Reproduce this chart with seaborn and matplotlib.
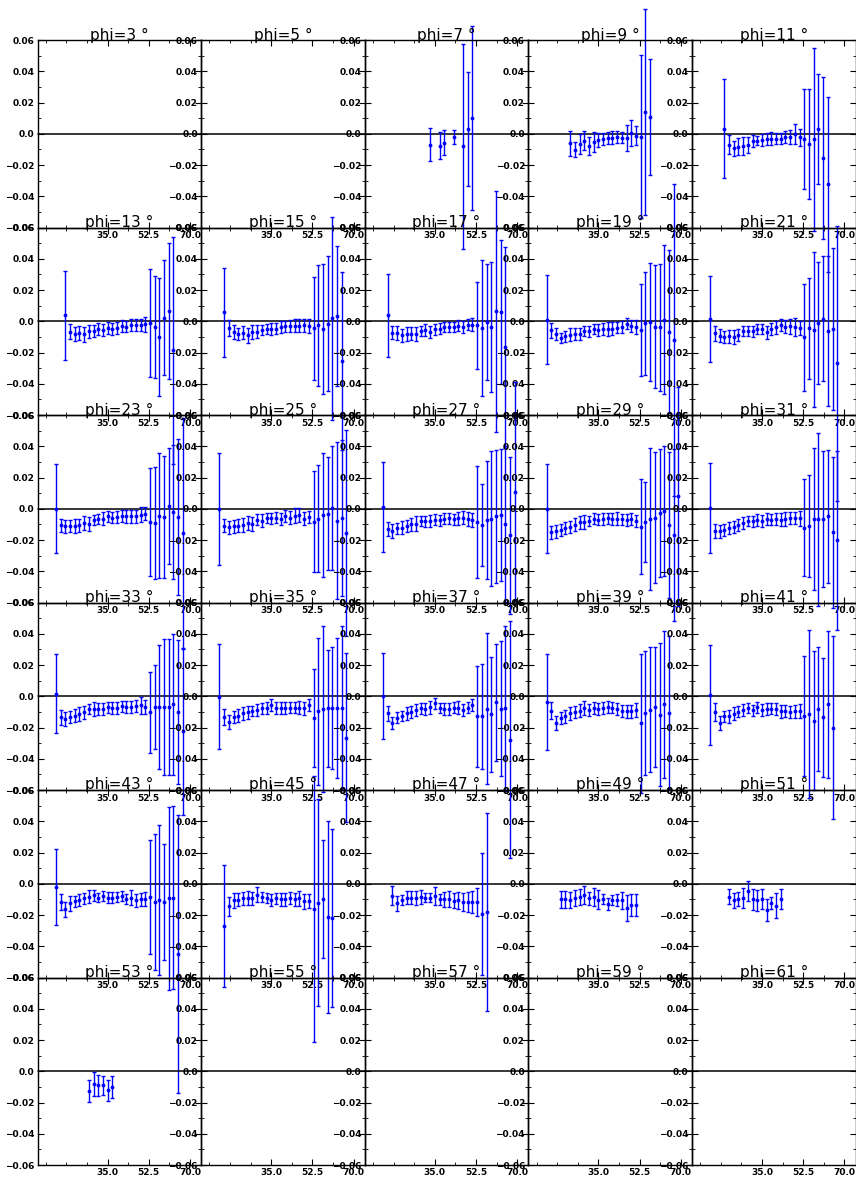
"""
Beam-spin asymmetry vs theta, one panel per phi bin (6 x 5 grid).
Saves out.png.
"""
import numpy as np
import pandas as pd
import matplotlib
matplotlib.use('Agg')
import matplotlib.pyplot as plt
from matplotlib.ticker import FixedLocator, MultipleLocator
import seaborn as sns

nan = float('nan')

# ─── Data ─────────────────────────────────────────────────────────────────────

PHI = [3, 5, 7, 9, 11, 13, 15, 17, 19, 21, 23, 25, 27, 29, 31,
       33, 35, 37, 39, 41, 43, 45, 47, 49, 51, 53, 55, 57, 59, 61]

THETA_BINS = [13, 15, 17, 19, 21, 23, 25, 27, 29, 31, 33, 35, 37, 39, 41,
              43, 45, 47, 49, 51, 53, 55, 57, 59, 61, 63, 65, 67, 69]

FIRST_BIN = {7: 33, 9: 23, 11: 19, 13: 17, 15: 15, 17: 15, 19: 13, 21: 13,
             23: 13, 25: 13, 27: 13, 29: 13, 31: 13, 33: 13, 35: 13, 37: 13,
             39: 13, 41: 13, 43: 13, 45: 15, 47: 17, 49: 19, 51: 21, 53: 27}

asym_07 = [-0.0069, nan, -0.0075, -0.0056, nan, -0.0021, nan, -0.0079, 0.0032, 0.0103]
err_07 = [0.0104, nan, 0.0088, 0.0082, nan, 0.0047, nan, 0.0657, 0.0366, 0.0590]

asym_09 = [-0.0060, -0.0101, -0.0064, -0.0043, -0.0079, -0.0054, -0.0039, -0.0032, -0.0026,
           -0.0024, -0.0021, -0.0024, -0.0026, 0.0006, -0.0011, -0.0017, 0.0139, 0.0109]
err_09 = [0.0081, 0.0049, 0.0062, 0.0062, 0.0058, 0.0064, 0.0045, 0.0037, 0.0039,
          0.0040, 0.0037, 0.0036, 0.0083, 0.0083, 0.0059, 0.0522, 0.0660, 0.0370]

asym_11 = [0.0032, -0.0069, -0.0092, -0.0081, -0.0077, -0.0069, -0.0045, -0.0043, -0.0039,
           -0.0034, -0.0032, -0.0030, -0.0032, -0.0021, -0.0019, -0.0002, -0.0021, -0.0034,
           -0.0066, -0.0034, 0.0032, -0.0154, -0.0323]
err_11 = [0.0317, 0.0060, 0.0047, 0.0057, 0.0060, 0.0051, 0.0036, 0.0028, 0.0036,
          0.0040, 0.0041, 0.0036, 0.0036, 0.0039, 0.0045, 0.0062, 0.0055, 0.0318,
          0.0350, 0.0586, 0.0353, 0.0518, 0.0560]

asym_13 = [0.0038, -0.0066, -0.0081, -0.0074, -0.0083, -0.0064, -0.0062, -0.0049, -0.0055,
           -0.0043, -0.0049, -0.0040, -0.0030, -0.0034, -0.0023, -0.0023, -0.0023, -0.0019,
           -0.0011, -0.0036, -0.0102, 0.0023, 0.0066, -0.0185]
err_13 = [0.0285, 0.0050, 0.0043, 0.0046, 0.0048, 0.0040, 0.0040, 0.0036, 0.0036,
          0.0038, 0.0040, 0.0038, 0.0037, 0.0037, 0.0038, 0.0038, 0.0038, 0.0047,
          0.0344, 0.0328, 0.0378, 0.0369, 0.0436, 0.0725]

asym_15 = [0.0057, -0.0043, -0.0068, -0.0081, -0.0072, -0.0089, -0.0068, -0.0066, -0.0053,
           -0.0049, -0.0049, -0.0047, -0.0038, -0.0032, -0.0028, -0.0028, -0.0028, -0.0026,
           -0.0030, -0.0045, -0.0026, -0.0049, -0.0015, 0.0019, 0.0034, -0.0255]
err_15 = [0.0285, 0.0052, 0.0044, 0.0038, 0.0043, 0.0048, 0.0043, 0.0041, 0.0032,
          0.0032, 0.0037, 0.0035, 0.0039, 0.0036, 0.0038, 0.0040, 0.0041, 0.0040,
          0.0047, 0.0328, 0.0387, 0.0419, 0.0434, 0.0650, 0.0450, 0.0570]

asym_17 = [0.0039, -0.0073, -0.0073, -0.0088, -0.0079, -0.0079, -0.0081, -0.0062, -0.0056,
           -0.0068, -0.0051, -0.0047, -0.0036, -0.0039, -0.0036, -0.0028, -0.0036, -0.0021,
           -0.0021, -0.0026, -0.0043, -0.0004, -0.0036, 0.0064, 0.0058, -0.0165]
err_17 = [0.0267, 0.0043, 0.0045, 0.0042, 0.0044, 0.0041, 0.0045, 0.0035, 0.0036,
          0.0040, 0.0034, 0.0035, 0.0031, 0.0032, 0.0034, 0.0037, 0.0037, 0.0036,
          0.0042, 0.0280, 0.0434, 0.0370, 0.0415, 0.0770, 0.0460, 0.0644]

asym_19 = [0.0009, -0.0056, -0.0081, -0.0107, -0.0096, -0.0086, -0.0081, -0.0081, -0.0060,
           -0.0064, -0.0051, -0.0056, -0.0049, -0.0049, -0.0047, -0.0041, -0.0036, -0.0015,
           -0.0030, -0.0036, -0.0053, -0.0013, -0.0004, -0.0034, -0.0039, 0.0011, -0.0066,
           -0.0118]
err_19 = [0.0285, 0.0048, 0.0041, 0.0033, 0.0035, 0.0042, 0.0041, 0.0041, 0.0032,
          0.0035, 0.0032, 0.0039, 0.0039, 0.0042, 0.0040, 0.0036, 0.0038, 0.0036,
          0.0040, 0.0043, 0.0295, 0.0332, 0.0380, 0.0392, 0.0407, 0.0475, 0.0522,
          0.1000]

asym_21 = [0.0015, -0.0075, -0.0092, -0.0098, -0.0096, -0.0101, -0.0088, -0.0064, -0.0064,
           -0.0064, -0.0049, -0.0047, -0.0071, -0.0049, -0.0039, -0.0026, -0.0034, -0.0032,
           -0.0034, -0.0041, -0.0103, -0.0045, -0.0053, -0.0011, 0.0017, -0.0060, -0.0050,
           -0.0267]
err_21 = [0.0276, 0.0048, 0.0043, 0.0039, 0.0043, 0.0045, 0.0039, 0.0032, 0.0032,
          0.0036, 0.0033, 0.0033, 0.0040, 0.0040, 0.0040, 0.0038, 0.0043, 0.0046,
          0.0058, 0.0046, 0.0340, 0.0325, 0.0495, 0.0388, 0.0400, 0.0480, 0.0520,
          0.0880]

asym_23 = [0.0000, -0.0105, -0.0112, -0.0110, -0.0110, -0.0105, -0.0090, -0.0099, -0.0069,
           -0.0062, -0.0062, -0.0049, -0.0056, -0.0052, -0.0047, -0.0049, -0.0049, -0.0049,
           -0.0037, -0.0032, -0.0082, -0.0092, -0.0045, -0.0052, 0.0019, -0.0022, -0.0052,
           -0.0157]
err_23 = [0.0285, 0.0041, 0.0043, 0.0041, 0.0043, 0.0043, 0.0044, 0.0045, 0.0032,
          0.0032, 0.0039, 0.0037, 0.0037, 0.0037, 0.0037, 0.0041, 0.0043, 0.0039,
          0.0046, 0.0042, 0.0346, 0.0360, 0.0400, 0.0390, 0.0370, 0.0430, 0.0497,
          0.0740]

asym_25 = [0.0000, -0.0108, -0.0118, -0.0112, -0.0108, -0.0101, -0.0092, -0.0097, -0.0069,
           -0.0075, -0.0058, -0.0060, -0.0056, -0.0065, -0.0047, -0.0056, -0.0043, -0.0039,
           -0.0062, -0.0052, -0.0082, -0.0062, -0.0039, -0.0030, 0.0004, -0.0075, -0.0060,
           -0.0153]
err_25 = [0.0360, 0.0041, 0.0043, 0.0042, 0.0041, 0.0045, 0.0044, 0.0044, 0.0037,
          0.0039, 0.0034, 0.0035, 0.0036, 0.0038, 0.0037, 0.0041, 0.0047, 0.0045,
          0.0044, 0.0041, 0.0325, 0.0343, 0.0395, 0.0360, 0.0396, 0.0500, 0.0500,
          0.0660]

asym_27 = [0.0011, -0.0130, -0.0143, -0.0125, -0.0121, -0.0110, -0.0099, -0.0095, -0.0076,
           -0.0080, -0.0078, -0.0069, -0.0074, -0.0063, -0.0061, -0.0067, -0.0061, -0.0056,
           -0.0065, -0.0074, -0.0084, -0.0104, -0.0069, -0.0063, -0.0048, -0.0041, -0.0097,
           -0.0170, 0.0110]
err_27 = [0.0290, 0.0043, 0.0044, 0.0037, 0.0040, 0.0040, 0.0043, 0.0046, 0.0032,
          0.0036, 0.0036, 0.0036, 0.0036, 0.0035, 0.0037, 0.0037, 0.0043, 0.0042,
          0.0042, 0.0045, 0.0357, 0.0260, 0.0378, 0.0432, 0.0425, 0.0424, 0.0497,
          0.0500, 0.0700]

asym_29 = [0.0000, -0.0151, -0.0145, -0.0134, -0.0125, -0.0115, -0.0102, -0.0086, -0.0086,
           -0.0076, -0.0063, -0.0069, -0.0067, -0.0061, -0.0067, -0.0063, -0.0067, -0.0069,
           -0.0065, -0.0078, -0.0115, -0.0084, -0.0063, -0.0056, -0.0028, -0.0017, -0.0104,
           -0.0170, 0.0080]
err_29 = [0.0285, 0.0043, 0.0043, 0.0040, 0.0039, 0.0040, 0.0042, 0.0040, 0.0046,
          0.0032, 0.0035, 0.0036, 0.0039, 0.0037, 0.0039, 0.0041, 0.0037, 0.0039,
          0.0040, 0.0040, 0.0304, 0.0255, 0.0454, 0.0420, 0.0410, 0.0416, 0.0466,
          0.0550, 0.0700]

asym_31 = [0.0006, -0.0141, -0.0145, -0.0134, -0.0123, -0.0115, -0.0104, -0.0093, -0.0078,
           -0.0080, -0.0071, -0.0078, -0.0063, -0.0069, -0.0065, -0.0069, -0.0065, -0.0061,
           -0.0058, -0.0061, -0.0121, -0.0110, -0.0065, -0.0067, -0.0065, -0.0048, -0.0151,
           -0.0201]
err_31 = [0.0290, 0.0047, 0.0044, 0.0040, 0.0037, 0.0038, 0.0040, 0.0038, 0.0032,
          0.0035, 0.0037, 0.0039, 0.0038, 0.0036, 0.0037, 0.0043, 0.0043, 0.0039,
          0.0040, 0.0046, 0.0310, 0.0327, 0.0454, 0.0553, 0.0433, 0.0425, 0.0485,
          0.0573]

asym_33 = [0.0017, -0.0135, -0.0146, -0.0131, -0.0123, -0.0112, -0.0101, -0.0080, -0.0082,
           -0.0082, -0.0080, -0.0071, -0.0075, -0.0075, -0.0065, -0.0069, -0.0067, -0.0062,
           -0.0058, -0.0067, -0.0103, -0.0069, -0.0069, -0.0069, -0.0069, -0.0052, -0.0101,
           -0.0224]
err_33 = [0.0253, 0.0048, 0.0046, 0.0040, 0.0042, 0.0043, 0.0042, 0.0032, 0.0045,
          0.0037, 0.0039, 0.0034, 0.0036, 0.0036, 0.0034, 0.0039, 0.0040, 0.0039,
          0.0053, 0.0046, 0.0260, 0.0268, 0.0396, 0.0434, 0.0434, 0.0450, 0.0463,
          0.0536]

asym_35 = [-0.0002, -0.0133, -0.0166, -0.0135, -0.0125, -0.0110, -0.0103, -0.0095, -0.0088,
           -0.0077, -0.0075, -0.0056, -0.0075, -0.0075, -0.0075, -0.0073, -0.0073, -0.0073,
           -0.0077, -0.0058, -0.0140, -0.0095, -0.0082, -0.0077, -0.0075, -0.0075, -0.0077,
           -0.0265]
err_35 = [0.0336, 0.0049, 0.0045, 0.0039, 0.0042, 0.0042, 0.0041, 0.0030, 0.0040,
          0.0036, 0.0036, 0.0041, 0.0039, 0.0036, 0.0041, 0.0037, 0.0037, 0.0041,
          0.0041, 0.0039, 0.0314, 0.0470, 0.0531, 0.0376, 0.0390, 0.0447, 0.0525,
          0.0540]

asym_37 = [0.0000, -0.0110, -0.0170, -0.0138, -0.0127, -0.0110, -0.0099, -0.0088, -0.0077,
           -0.0082, -0.0071, -0.0045, -0.0075, -0.0080, -0.0080, -0.0073, -0.0073, -0.0090,
           -0.0073, -0.0058, -0.0129, -0.0129, -0.0080, -0.0116, -0.0037, -0.0080, -0.0075,
           -0.0277]
err_37 = [0.0275, 0.0047, 0.0040, 0.0036, 0.0034, 0.0041, 0.0038, 0.0040, 0.0036,
          0.0040, 0.0040, 0.0037, 0.0031, 0.0037, 0.0037, 0.0037, 0.0040, 0.0038,
          0.0036, 0.0039, 0.0325, 0.0337, 0.0483, 0.0370, 0.0375, 0.0433, 0.0528,
          0.0760]

asym_39 = [-0.0037, -0.0092, -0.0172, -0.0140, -0.0127, -0.0110, -0.0101, -0.0092, -0.0075,
           -0.0086, -0.0075, -0.0080, -0.0075, -0.0069, -0.0073, -0.0080, -0.0095, -0.0097,
           -0.0097, -0.0086, -0.0172, -0.0108, -0.0086, -0.0069, -0.0118, -0.0052, -0.0105]
err_39 = [0.0307, 0.0054, 0.0045, 0.0039, 0.0041, 0.0041, 0.0041, 0.0041, 0.0047,
          0.0037, 0.0041, 0.0039, 0.0037, 0.0037, 0.0037, 0.0037, 0.0040, 0.0039,
          0.0039, 0.0044, 0.0445, 0.0396, 0.0400, 0.0383, 0.0457, 0.0470, 0.0490]

asym_41 = [0.0011, -0.0101, -0.0170, -0.0129, -0.0129, -0.0112, -0.0099, -0.0090, -0.0075,
           -0.0090, -0.0071, -0.0086, -0.0080, -0.0080, -0.0080, -0.0097, -0.0095, -0.0101,
           -0.0097, -0.0097, -0.0127, -0.0114, -0.0155, -0.0082, -0.0135, -0.0052, -0.0200]
err_41 = [0.0320, 0.0055, 0.0043, 0.0037, 0.0039, 0.0041, 0.0034, 0.0039, 0.0032,
          0.0037, 0.0037, 0.0037, 0.0037, 0.0036, 0.0037, 0.0039, 0.0039, 0.0040,
          0.0039, 0.0045, 0.0385, 0.0540, 0.0443, 0.0396, 0.0380, 0.0468, 0.0587]

asym_43 = [-0.0021, -0.0117, -0.0162, -0.0126, -0.0111, -0.0102, -0.0094, -0.0083, -0.0074,
           -0.0089, -0.0079, -0.0089, -0.0089, -0.0083, -0.0079, -0.0098, -0.0089, -0.0106,
           -0.0098, -0.0096, -0.0085, -0.0115, -0.0102, -0.0115, -0.0094, -0.0089, -0.0449]
err_43 = [0.0243, 0.0052, 0.0048, 0.0049, 0.0036, 0.0038, 0.0037, 0.0041, 0.0037,
          0.0029, 0.0030, 0.0035, 0.0035, 0.0032, 0.0033, 0.0034, 0.0047, 0.0043,
          0.0042, 0.0046, 0.0367, 0.0436, 0.0479, 0.0370, 0.0585, 0.0585, 0.0887]

asym_45 = [-0.0268, -0.0145, -0.0106, -0.0102, -0.0094, -0.0089, -0.0094, -0.0070, -0.0085,
           -0.0094, -0.0104, -0.0094, -0.0100, -0.0098, -0.0091, -0.0100, -0.0094, -0.0113,
           -0.0113, -0.0160, -0.0120, -0.0098, -0.0213, -0.0221]
err_45 = [0.0390, 0.0060, 0.0048, 0.0042, 0.0043, 0.0045, 0.0044, 0.0049, 0.0031,
          0.0032, 0.0040, 0.0034, 0.0040, 0.0042, 0.0041, 0.0042, 0.0050, 0.0050,
          0.0045, 0.0850, 0.0660, 0.0380, 0.0613, 0.0570]

asym_47 = [-0.0077, -0.0126, -0.0102, -0.0089, -0.0089, -0.0089, -0.0085, -0.0089, -0.0089,
           -0.0079, -0.0098, -0.0098, -0.0098, -0.0108, -0.0106, -0.0117, -0.0117, -0.0117,
           -0.0117, -0.0191, -0.0180]
err_47 = [0.0060, 0.0049, 0.0033, 0.0043, 0.0041, 0.0044, 0.0046, 0.0027, 0.0027,
          0.0057, 0.0035, 0.0048, 0.0049, 0.0050, 0.0055, 0.0055, 0.0063, 0.0068,
          0.0090, 0.0390, 0.0633]

asym_49 = [-0.0100, -0.0100, -0.0104, -0.0089, -0.0085, -0.0070, -0.0094, -0.0085, -0.0102,
           -0.0100, -0.0130, -0.0106, -0.0104, -0.0106, -0.0153, -0.0134, -0.0136]
err_49 = [0.0057, 0.0053, 0.0050, 0.0051, 0.0049, 0.0057, 0.0043, 0.0055, 0.0060,
          0.0032, 0.0040, 0.0032, 0.0040, 0.0055, 0.0084, 0.0069, 0.0070]

asym_51 = [-0.0083, -0.0106, -0.0098, -0.0089, -0.0045, -0.0100, -0.0106, -0.0100, -0.0170,
           -0.0123, -0.0140, -0.0100]
err_51 = [0.0049, 0.0047, 0.0047, 0.0063, 0.0063, 0.0066, 0.0068, 0.0064, 0.0071,
          0.0036, 0.0080, 0.0064]

asym_53 = [-0.0126, -0.0079, -0.0091, -0.0091, -0.0121, -0.0100]
err_53 = [0.0068, 0.0077, 0.0070, 0.0059, 0.0068, 0.0072]

XTICKS = [35.0, 52.5, 70.0]
XTICK_LABELS = ['35.0', '52.5', '70.0']
XMINOR = [8.75, 17.5, 26.25, 43.75, 61.25]
YTICKS = [-0.06, -0.04, -0.02, 0.0, 0.02, 0.04, 0.06]
YTICK_LABELS = ['\u22120.06', '\u22120.04', '\u22120.02', '0.0', '0.02', '0.04', '0.06']

SERIES = {
    7: (asym_07, err_07), 9: (asym_09, err_09), 11: (asym_11, err_11),
    13: (asym_13, err_13), 15: (asym_15, err_15), 17: (asym_17, err_17),
    19: (asym_19, err_19), 21: (asym_21, err_21), 23: (asym_23, err_23),
    25: (asym_25, err_25), 27: (asym_27, err_27), 29: (asym_29, err_29),
    31: (asym_31, err_31), 33: (asym_33, err_33), 35: (asym_35, err_35),
    37: (asym_37, err_37), 39: (asym_39, err_39), 41: (asym_41, err_41),
    43: (asym_43, err_43), 45: (asym_45, err_45), 47: (asym_47, err_47),
    49: (asym_49, err_49), 51: (asym_51, err_51), 53: (asym_53, err_53),
}


def build_frame() -> pd.DataFrame:
    """Long-form table: one row per (phi, theta) bin."""
    rows = []
    for phi, (vals, errs) in SERIES.items():
        i0 = THETA_BINS.index(FIRST_BIN[phi])
        for theta, v, e in zip(THETA_BINS[i0:], vals, errs):
            if not np.isnan(v):
                rows.append((phi, theta, v, e))
    return pd.DataFrame(rows, columns=['phi', 'theta', 'asym', 'err'])


# ─── Plot ─────────────────────────────────────────────────────────────────────

sns.set_theme(style='ticks')
plt.rcParams['font.family'] = ['DejaVu Sans']
plt.rcParams['axes.linewidth'] = 1.0
plt.rcParams['text.color'] = 'black'

df = build_frame()

g = sns.FacetGrid(df, col='phi', col_wrap=5, col_order=PHI,
                  sharex=False, sharey=False, despine=False,
                  height=1.875, aspect=0.87)
g.map(plt.errorbar, 'theta', 'asym', 'err', fmt='.', color='blue',
      markersize=3.5, elinewidth=1.0, capsize=1.5, capthick=1.0)
g.set_axis_labels('', '')

fig = g.figure
fig.set_size_inches(8.56, 11.8)
fig.subplots_adjust(left=0.044, right=0.9995, top=0.966, bottom=0.0127,
                    wspace=0, hspace=0)

for phi, ax in g.axes_dict.items():
    ax.set_title('')
    ax.patch.set_visible(False)
    ax.set_xlim(5.25, 74.8)
    ax.set_ylim(-0.06, 0.06)
    ax.xaxis.set_major_locator(FixedLocator(XTICKS))
    ax.set_xticklabels(XTICK_LABELS)
    ax.xaxis.set_minor_locator(FixedLocator(XMINOR))
    ax.yaxis.set_major_locator(FixedLocator(YTICKS))
    ax.set_yticklabels(YTICK_LABELS)
    ax.yaxis.set_minor_locator(MultipleLocator(0.01))
    ax.tick_params(which='both', direction='in', top=True, right=True,
                   labelsize=6.5, pad=2.5, colors='black')
    ax.tick_params(which='major', length=4, width=0.8)
    ax.tick_params(which='minor', length=2, width=0.6)
    for lab in ax.get_xticklabels() + ax.get_yticklabels():
        lab.set_fontweight('bold')
    for sp in ax.spines.values():
        sp.set_color('black')
        sp.set_linewidth(1.0)

    ax.axhline(0.0, color='black', linewidth=1.1, zorder=1)
    ax.text(0.5, 1.003, f'phi={phi} \u00b0', transform=ax.transAxes,
            ha='center', va='baseline', fontsize=11, color='black')

    # error bars may run past the panel edges, as in the original
    for art in list(ax.lines) + list(ax.collections):
        art.set_clip_on(False)

fig.savefig('out.png', dpi=100, facecolor='white')
plt.close(fig)
